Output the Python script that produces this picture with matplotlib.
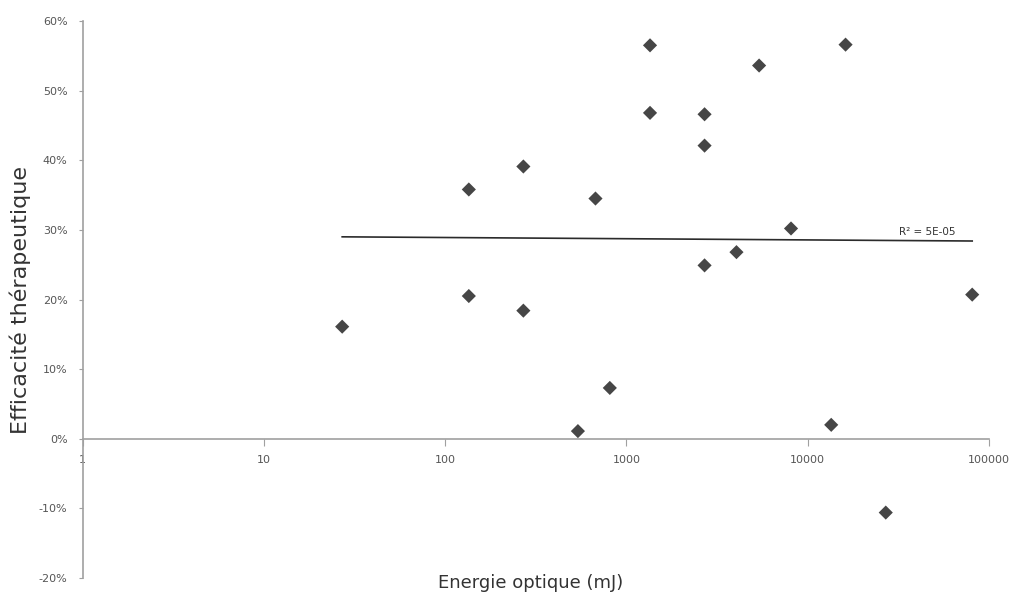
import matplotlib
matplotlib.use("Agg")
import matplotlib.pyplot as plt
import matplotlib.ticker as mtick
import numpy as np

plt.rcParams['axes.unicode_minus'] = False

# Data
energie = [27, 135, 135, 270, 270, 540, 675, 810, 1350, 1350,
           2700, 2700, 2700, 4050, 5400, 8100, 13500, 16200, 27000, 81000]
efficacite = [0.161, 0.358, 0.205, 0.391, 0.184, 0.011, 0.345, 0.073, 0.565, 0.468,
              0.466, 0.421, 0.249, 0.268, 0.536, 0.302, 0.020, 0.566, -0.106, 0.207]

# Trend line (logarithmic fit, as shown)
trend_x = [27, 81000]
trend_y = [0.290, 0.284]
r2_label = "R² = 5E-05"

x_ticks = [1, 10, 100, 1000, 10000, 100000]
y_ticks = [-0.2, -0.1, 0.0, 0.1, 0.2, 0.3, 0.4, 0.5, 0.6]

fig = plt.figure(figsize=(10.10, 5.99), dpi=100)
ax = fig.add_axes([0.082, 0.035, 0.897, 0.930])

# Scatter points
ax.scatter(energie, efficacite, marker='D', s=52, color='#464646', zorder=3,
           edgecolors='none')

# Trend line
ax.plot(trend_x, trend_y, color='#2b2b2b', lw=1.2, zorder=2)
ax.text(46000, 0.297, r2_label, fontsize=7.5, color='#333333', ha='center', va='center')

# Axes setup
ax.set_xscale('log')
ax.set_xlim(1, 100000)
ax.set_ylim(-0.2, 0.6)

ax.spines['top'].set_visible(False)
ax.spines['right'].set_visible(False)
ax.spines['bottom'].set_position(('data', 0))
ax.spines['left'].set_color('#a0a0a0')
ax.spines['bottom'].set_color('#a0a0a0')
ax.spines['left'].set_linewidth(1.2)
ax.spines['bottom'].set_linewidth(1.2)

ax.set_xticks(x_ticks)
ax.set_xticklabels([str(v) for v in x_ticks])
ax.xaxis.set_minor_locator(mtick.NullLocator())
ax.set_yticks(y_ticks)
ax.yaxis.set_major_formatter(mtick.PercentFormatter(1.0, decimals=0))

ax.tick_params(axis='x', direction='out', length=5, color='#a0a0a0',
               labelsize=8, labelcolor='#555555', pad=7)
ax.tick_params(axis='y', direction='out', length=3, color='#a0a0a0',
               labelsize=8, labelcolor='#555555', pad=8)

# Labels
fig.text(0.525, 0.027, "Energie optique (mJ)", fontsize=13, color='#333333',
         ha='center', va='center')
fig.text(0.020, 0.50, "Efficacité thérapeutique", fontsize=16, color='#333333',
         ha='center', va='center', rotation=90)

fig.savefig('out.png', dpi=100)
